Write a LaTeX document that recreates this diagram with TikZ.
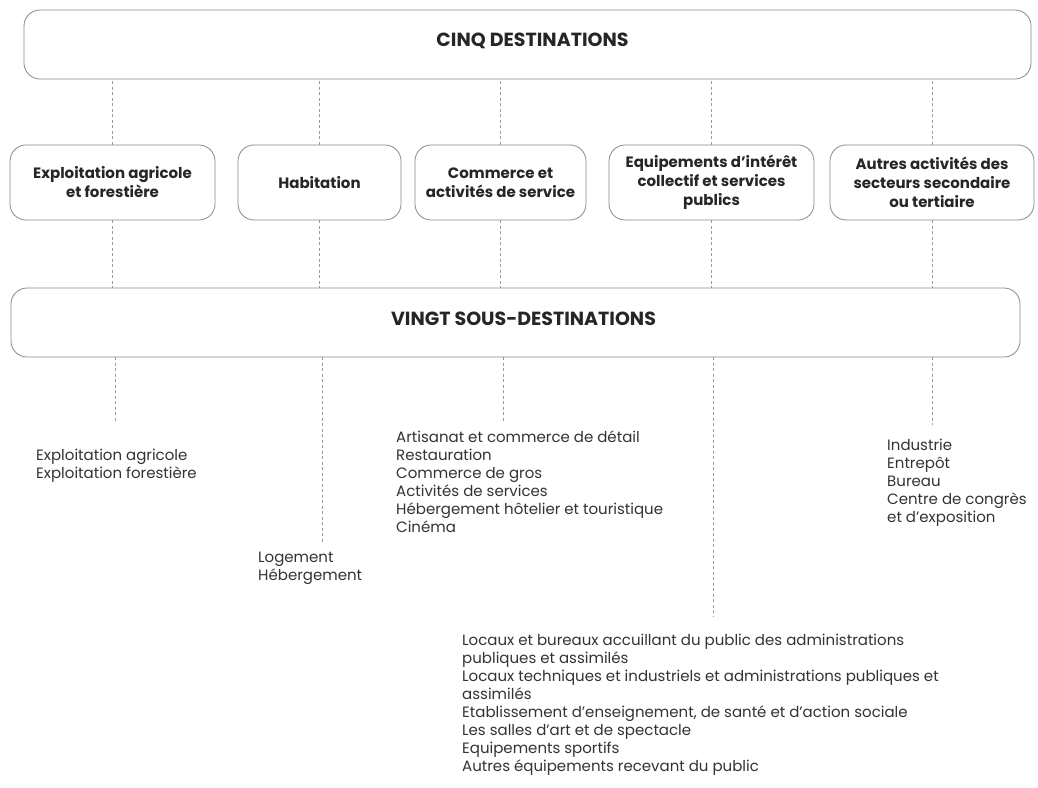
\documentclass[tikz,border=0pt]{standalone}
\usepackage{fontspec}
\setmainfont{Poppins}
\begin{document}
\begin{tikzpicture}[x=1pt,y=-1pt,
  box/.style={draw=boxgray,line width=0.8pt,rounded corners=16pt,align=center,
    font=\fontsize{15}{19}\selectfont\bfseries,text=black!85,inner sep=0pt},
  big/.style={draw=boxgray,line width=0.8pt,rounded corners=16pt,inner sep=0pt},
  bigtext/.style={font=\fontsize{19}{22}\selectfont\bfseries,text=black!85,inner sep=0pt},
  link/.style={draw=linegray,line width=0.6pt,dash pattern=on 3pt off 2.5pt},
  list/.style={anchor=north west,align=left,inner sep=0pt,text=black!80,
    font=\fontsize{15}{18}\selectfont}]
\definecolor{boxgray}{HTML}{8A8A8A}
\definecolor{linegray}{HTML}{9A9A9A}
\useasboundingbox[fill=white] (0,0) rectangle (1038,787);

\node[big,minimum width=1007pt,minimum height=69pt,
  label={[bigtext,xshift=5pt,yshift=4pt]center:CINQ DESTINATIONS}] (top) at (527.5,44.5) {};
\node[box,minimum width=205pt,minimum height=75pt] (m1) at (112.5,182.5) {Exploitation agricole\\et forestière};
\node[box,minimum width=163pt,minimum height=75pt] (m2) at (319.5,182.5) {Habitation};
\node[box,minimum width=171pt,minimum height=75pt] (m3) at (500.5,182.5) {Commerce et\\activités de service};
\node[box,minimum width=205pt,minimum height=75pt] (m4) at (711.5,182.5) {Equipements d’intérêt\\collectif et services\\publics};
\node[box,minimum width=204pt,minimum height=75pt] (m5) at (932,182.5) {Autres activités des\\secteurs secondaire\\ou tertiaire};
\node[big,minimum width=1009pt,minimum height=69pt,
  label={[bigtext,xshift=8pt,yshift=4pt]center:VINGT SOUS-DESTINATIONS}] (bot) at (515.5,322.5) {};

\foreach \m in {m1,m2,m3,m4,m5}{
  \draw[link] (\m.north) -- (\m.north |- top.south);
  \draw[link] (\m.south) -- (\m.south |- bot.north);
}

\coordinate (e1) at (115,423);
\coordinate (e2) at (322,542);
\coordinate (e3) at (503,423);
\coordinate (e4) at (713,616);
\coordinate (e5) at (932,425);
\foreach \e in {e1,e2,e3,e4,e5}{
  \draw[link] (\e |- bot.south) -- (\e);
}

\node[list] (l1) at (36,449) {Exploitation agricole\\Exploitation forestière};
\node[list] (l2) at (258,552) {Logement\\Hébergement};
\node[list] (l3) at (396,431) {Artisanat et commerce de détail\\Restauration\\Commerce de gros\\Activités de services\\Hébergement hôtelier et touristique\\Cinéma};
\node[list] (l4) at (462,634) {Locaux et bureaux accuillant du public des administrations\\publiques et assimilés\\Locaux techniques et industriels et administrations publiques et\\assimilés\\Etablissement d’enseignement, de santé et d’action sociale\\Les salles d’art et de spectacle\\Equipements sportifs\\Autres équipements recevant du public};
\node[list] (l5) at (887,439) {Industrie\\Entrepôt\\Bureau\\Centre de congrès\\et d’exposition};
\end{tikzpicture}
\end{document}
